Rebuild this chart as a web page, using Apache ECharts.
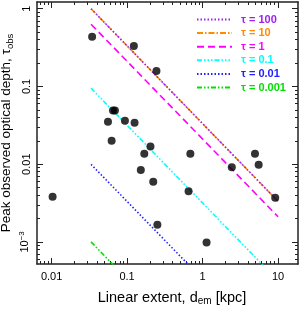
<!DOCTYPE html>
<html>
<head>
<meta charset="utf-8">
<script src="https://cdn.jsdelivr.net/npm/echarts@6/dist/echarts.min.js"></script>
<style>
html,body{margin:0;padding:0;background:#fff;}
#chart{width:303px;height:312px;}
</style>
</head>
<body>
<div id="chart"></div>
<script>
// ---- data ----
const pointX = [0.0103, 0.0344, 0.123, 0.245, 0.0558, 0.065, 0.069, 0.0624, 0.0936, 0.1256, 0.204, 0.169, 0.152, 0.222, 0.252, 0.653, 0.689, 1.13, 2.44, 4.95, 5.54, 9.18];
const pointY = [0.0038, 0.435, 0.332, 0.158, 0.0352, 0.049, 0.049, 0.020, 0.0363, 0.0342, 0.0169, 0.0136, 0.00843, 0.00596, 0.00166, 0.00448, 0.0136, 0.00098, 0.00914, 0.0136, 0.0098, 0.0037];

const tauNames = ['τ = 100', 'τ = 10', 'τ = 1', 'τ = 0.1', 'τ = 0.01', 'τ = 0.001'];
const lineX = [0.0333, 10];
const lineStartY = [1.0, 1.0, 0.632, 0.095, 0.00995, 0.001];
const lineEndY = [0.00333, 0.00333, 0.00211, 0.000317, 0.0000332, 0.0000033];

const xMajorTicks = [0.01, 0.1, 1, 10];
const xMinorTicks = [0.007, 0.008, 0.009, 0.02, 0.03, 0.04, 0.05, 0.06, 0.07, 0.08, 0.09, 0.2, 0.3, 0.4, 0.5, 0.6, 0.7, 0.8, 0.9, 2, 3, 4, 5, 6, 7, 8, 9];
const yMajorTicks = [0.001, 0.01, 0.1, 1];
const yMinorTicks = [0.0006, 0.0007, 0.0008, 0.0009, 0.002, 0.003, 0.004, 0.005, 0.006, 0.007, 0.008, 0.009, 0.02, 0.03, 0.04, 0.05, 0.06, 0.07, 0.08, 0.09, 0.2, 0.3, 0.4, 0.5, 0.6, 0.7, 0.8, 0.9];
const xTickLabels = ['0.01', '0.1', '1', '10'];
const yTickLabels = ['{n|10}{s|−3}', '0.01', '0.1', '1'];

// ---- styles ----
const lineColors = ['#a020f0', '#ff8c00', '#ff00ff', '#00ffff', '#2020ff', '#00e000'];
const lineDashes = [[1.5, 2], [6, 2, 1.5, 2], [7, 4], [5, 2, 1.5, 2, 1.5, 2, 1.5, 2], [1.5, 2], [5, 2, 1.5, 2, 1.5, 2]];
const drawOrder = [1, 0, 2, 3, 4, 5];

const X_MIN = 0.0064, X_MAX = 18.4, Y_MIN = 0.00052, Y_MAX = 1.22;
const FONT = 'Liberation Sans, Arial, sans-serif';
const frameColor = '#222';

function near(v, arr) {
  for (let i = 0; i < arr.length; i++) {
    if (Math.abs(Math.log10(v) - Math.log10(arr[i])) < 1e-6) return i;
  }
  return -1;
}

function makeAxis(kind, pos, major, withLabels) {
  const isX = kind === 'x';
  const ax = {
    type: 'log', logBase: 10,
    min: isX ? X_MIN : Y_MIN, max: isX ? X_MAX : Y_MAX,
    position: pos,
    gridIndex: 0,
    axisLine: { show: major, lineStyle: { color: frameColor, width: 1.5 } },
    axisTick: {
      show: true, inside: true,
      length: major ? 6 : 3,
      customValues: isX ? (major ? xMajorTicks : xMinorTicks) : (major ? yMajorTicks : yMinorTicks),
      lineStyle: { color: frameColor, width: 1 }
    },
    minorTick: { show: false },
    splitLine: { show: false },
    axisLabel: { show: false },
    axisPointer: { show: false }
  };
  if (withLabels) {
    ax.axisLabel = {
      show: true,
      customValues: isX ? xMajorTicks : yMajorTicks,
      color: '#000',
      fontFamily: FONT,
      fontSize: 11,
      margin: isX ? 7 : 5,
      rotate: isX ? 0 : 90,
      formatter: function (v) {
        const i = near(v, isX ? xMajorTicks : yMajorTicks);
        if (i < 0) return '';
        return isX ? xTickLabels[i] : yTickLabels[i];
      },
      rich: {
        n: { fontFamily: FONT, fontSize: 11, color: '#000' },
        s: { fontFamily: FONT, fontSize: 8, color: '#000', verticalAlign: 'bottom', padding: [0, 0, 6, 0] }
      }
    };
    ax.nameMoveOverlap = false;
    ax.nameLocation = 'middle';
    if (isX) {
      ax.name = '{t|Linear extent, d}{sub|em}{t| [kpc]}';
      ax.nameGap = 25;
      ax.nameTextStyle = {
        padding: [0, 0, 0, 9],
        rich: {
          t: { fontFamily: FONT, fontSize: 14.5, color: '#000' },
          sub: { fontFamily: FONT, fontSize: 10, color: '#000', verticalAlign: 'top', padding: [7, 0, 0, 0] }
        }
      };
    } else {
      ax.name = '{t|Peak observed optical depth, τ}{sub|obs}';
      ax.nameRotate = 90;
      ax.nameGap = 22;
      ax.nameTextStyle = {
        padding: 0,
        rich: {
          t: { fontFamily: FONT, fontSize: 13.5, color: '#000' },
          sub: { fontFamily: FONT, fontSize: 9.5, color: '#000', verticalAlign: 'top', padding: [7, 0, 0, 0] }
        }
      };
    }
  } else {
    ax.name = '';
  }
  return ax;
}

const xAxes = [
  makeAxis('x', 'bottom', true, true),
  makeAxis('x', 'bottom', false, false),
  makeAxis('x', 'top', true, false),
  makeAxis('x', 'top', false, false)
];
const yAxes = [
  makeAxis('y', 'left', true, true),
  makeAxis('y', 'left', false, false),
  makeAxis('y', 'right', true, false),
  makeAxis('y', 'right', false, false)
];

const series = [];
drawOrder.forEach(function (i) {
  series.push({
    name: tauNames[i],
    type: 'line',
    xAxisIndex: 0, yAxisIndex: 0,
    data: [[lineX[0], lineStartY[i]], [lineX[1], lineEndY[i]]],
    showSymbol: false, symbol: 'none',
    clip: true,
    silent: true,
    lineStyle: { color: lineColors[i], width: 1.6, type: lineDashes[i] },
    itemStyle: { color: lineColors[i] },
    z: 2
  });
});
series.push({
  name: 'data',
  type: 'scatter',
  xAxisIndex: 0, yAxisIndex: 0,
  data: pointX.map(function (x, k) { return [x, pointY[k]]; }),
  symbol: 'circle',
  symbolSize: 8,
  itemStyle: { color: '#000' },
  z: 5
});

const option = {
  animation: false,
  backgroundColor: '#fff',
  grid: { left: 37, right: 5, top: 2, bottom: 48, containLabel: false, outerBoundsMode: 'none' },
  xAxis: xAxes,
  yAxis: yAxes,
  legend: {
    orient: 'vertical',
    left: 196, top: 14,
    itemWidth: 35, itemHeight: 10, itemGap: 2.6,
    align: 'left',
    padding: 0,
    selectedMode: false,
    itemStyle: { opacity: 0 },
    data: tauNames.map(function (n, i) {
      return { name: n, textStyle: { color: lineColors[i] } };
    }),
    textStyle: { fontFamily: FONT, fontSize: 11, fontWeight: 'bold', lineHeight: 10, padding: [0, 0, 0, 4] }
  },
  series: series
};

const chart = echarts.init(document.getElementById('chart'), null, { renderer: 'canvas', width: 303, height: 312 });
chart.setOption(option);
</script>
</body>
</html>
